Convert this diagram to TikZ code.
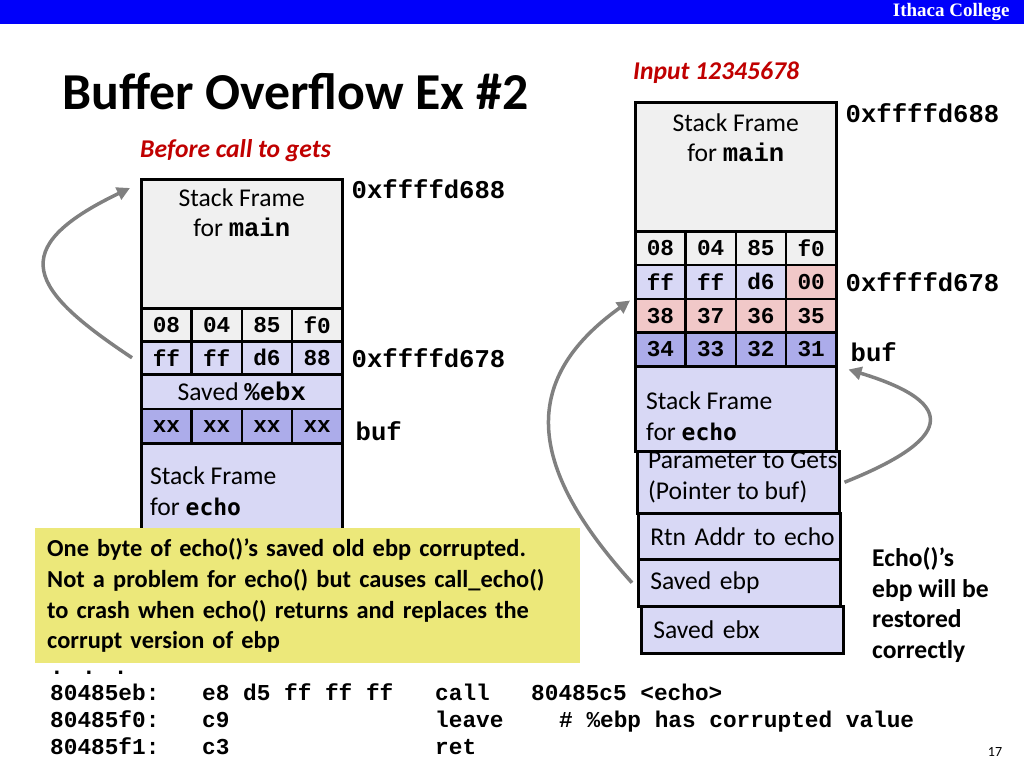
\documentclass[tikz,border=0pt]{standalone}
\usepackage{fontspec}
\usepackage{xcolor}
\setmainfont{Carlito}
\newfontfamily\codefont{Liberation Mono}
\newfontfamily\headfont{Liberation Serif}
\newfontfamily\echofont{DejaVu Sans Mono}
\usetikzlibrary{arrows.meta}
\definecolor{slideblue}{RGB}{0,0,250}
\definecolor{framegray}{RGB}{240,240,240}
\definecolor{lavender}{RGB}{216,216,245}
\definecolor{bufblue}{RGB}{172,172,234}
\definecolor{corruptpink}{RGB}{241,200,200}
\definecolor{notecolor}{RGB}{236,232,122}
\definecolor{inputred}{RGB}{192,0,0}
\definecolor{arrowgray}{RGB}{128,128,128}
\newcommand\txtsize{\fontsize{25.6}{30.6}\selectfont}
\newcommand\cellsize{\codefont\bfseries\fontsize{22.7}{24}\selectfont}
\newcommand\addrsize{\codefont\bfseries\fontsize{25.6}{28}\selectfont}
\newcommand\codesize{\codefont\bfseries\fontsize{22.75}{27}\selectfont}
\newcommand\fn[1]{{\codefont\bfseries #1}}
\newcommand\fe[1]{{\echofont\bfseries\fontsize{23}{28}\selectfont #1}}

\begin{document}
\begin{tikzpicture}[x=1pt, y=-1pt, every node/.style={font=\txtsize},
  cell/.style={draw, line width=2.5pt, anchor=north west, minimum width=50.25pt, inner sep=0pt, font=\cellsize},
  frame/.style={draw, line width=2.5pt, anchor=north west, minimum width=201pt, inner sep=0pt},
  slot/.style={draw, line width=2.5pt, anchor=north west, fill=lavender, text width=178pt, inner xsep=12pt, inner ysep=0pt, align=left},
  addr/.style={anchor=west, inner xsep=0pt, font=\addrsize},
  code/.style={anchor=base west, inner xsep=0pt, font=\codesize},
  arrow/.style={-{Triangle[length=13pt,width=13pt]}, line width=3.5pt, arrowgray},
  redlabel/.style={anchor=base west, inner xsep=0pt, text=inputred, font=\fontsize{25.6}{30}\selectfont\bfseries\itshape}]
  \useasboundingbox (0,0) rectangle (1024,768);
  \fill[slideblue] (0,0) rectangle (1024,24);
  \node[anchor=east, text=white, font=\headfont\bfseries\fontsize{19}{22}\selectfont] (college) at (1013,12) {Ithaca College};
  \node[anchor=base west, inner xsep=0pt, font=\bfseries\fontsize{51.8}{60}\selectfont] (title) at (62,109) {Buffer Overflow Ex \#2};
  \node[redlabel] (before) at (140,157) {Before call to gets};
  \node[redlabel] (input) at (633,79) {Input 12345678};

  \node[frame, fill=framegray, minimum height=129pt] (lmain) at (140,178) {};
  \node[anchor=north, align=center] (lmaintxt) at ([yshift=-7pt]lmain.north) {Stack Frame\\for \fn{main}};
  \foreach \v [count=\i from 0] in {08,04,85,f0}
    \node[cell, fill=framegray, minimum height=33pt] (la\i) at ({140+\i*50.25},307) {\v};
  \foreach \v [count=\i from 0] in {ff,ff,d6,88}
    \node[cell, fill=lavender, minimum height=33pt] (lb\i) at ({140+\i*50.25},340) {\v};
  \node[frame, fill=lavender, minimum height=34.5pt] (lebx) at (140,373) {Saved \fn{\%ebx}};
  \foreach \v [count=\i from 0] in {xx,xx,xx,xx}
    \node[cell, fill=bufblue, minimum height=34.5pt] (lc\i) at ({140+\i*50.25},407.5) {\v};
  \node[frame, fill=lavender, minimum height=90pt] (lecho) at (140,442) {};
  \node[anchor=base west, align=left, inner xsep=0pt] (lechotxt) at (150,515) {Stack Frame\\for \fe{echo}};
  \node[addr] (ltop) at ([xshift=8pt,yshift=-11pt]lmain.north east) {0xffffd688};
  \node[addr] (lebp) at ([xshift=8pt]lb3.east) {0xffffd678};
  \node[addr] (lbuf) at ([xshift=12pt,yshift=-5pt]lc3.east) {buf};

  \node[anchor=north west, fill=notecolor, minimum width=545pt, minimum height=135pt, text width=521pt, inner xsep=12pt, align=left, font=\fontsize{24.4}{30.7}\selectfont\bfseries] (note) at (35,528)
    {One byte of echo()’s saved old ebp corrupted.\\Not a problem for echo() but causes call\_echo()\\to crash when echo() returns and replaces the\\corrupt version of ebp};

  \node[frame, fill=framegray, minimum height=129pt] (rmain) at (634,101) {};
  \node[anchor=north, align=center] (rmaintxt) at ([yshift=-9pt]rmain.north) {Stack Frame\\for \fn{main}};
  \foreach \v [count=\i from 0] in {08,04,85,f0}
    \node[cell, fill=framegray, minimum height=33.75pt] (ra\i) at ({634+\i*50.25},230) {\v};
  \foreach \v/\c [count=\i from 0] in {ff/lavender,ff/lavender,d6/lavender,00/corruptpink}
    \node[cell, fill=\c, minimum height=33.75pt] (rb\i) at ({634+\i*50.25},263.75) {\v};
  \foreach \v [count=\i from 0] in {38,37,36,35}
    \node[cell, fill=corruptpink, minimum height=33.75pt] (rc\i) at ({634+\i*50.25},297.5) {\v};
  \foreach \v [count=\i from 0] in {34,33,32,31}
    \node[cell, fill=bufblue, minimum height=33.75pt] (rd\i) at ({634+\i*50.25},331.25) {\v};
  \node[frame, fill=lavender, minimum height=85pt] (recho) at (634,365) {};
  \node[anchor=base west, align=left, inner xsep=0pt] (rechotxt) at (646,440) {Stack Frame\\for \fe{echo}};
  \node[slot, minimum height=62pt] (rparam) at (636,450) {};
  \node[anchor=base west, align=left, inner xsep=0pt] (rparamtxt) at (648,499) {Parameter to Gets\\(Pointer to buf)};
  \node[slot, minimum height=46pt] (rrtn) at (637,512) {\mbox{Rtn Addr to echo}};
  \node[slot, minimum height=47pt] (rsebp) at (637,558) {\raisebox{-3pt}{Saved ebp}};
  \node[slot, minimum height=47pt] (rsebx) at (640,605) {\raisebox{-3pt}{Saved ebx}};
  \node[addr] (rtop) at ([xshift=8pt,yshift=-12pt]rmain.north east) {0xffffd688};
  \node[addr] (rebp) at ([xshift=8pt]rb3.east) {0xffffd678};
  \node[addr] (rbuf) at ([xshift=13pt,yshift=-3pt]rd3.east) {buf};
  \node[anchor=west, align=left, inner xsep=0pt, font=\txtsize\bfseries] (restored) at (872,605) {Echo()’s\\ebp will be\\restored\\correctly};

  \draw[arrow] ([xshift=-8pt]lb0.west) .. controls (30,290) and (3,249) .. ([xshift=-10pt,yshift=-10pt]lmain.north west);
  \draw[arrow] ([xshift=-5pt]rsebp.west) .. controls (530,470) and (516,382) .. ([xshift=-4pt,yshift=-3pt]rc0.north west);
  \draw[arrow] ([xshift=4pt]rparam.east) .. controls (950,440) and (962,404) .. ([xshift=11pt,yshift=-2pt]rd3.south east);

  \node[code, text height=4pt] (dots) at (50,674) {. . .};
  \node[code] (l1addr) at (50,700) {80485eb:};
  \node[code] (l1hex) at (202,700) {e8 d5 ff ff ff};
  \node[code] (l1op) at (435,700) {call};
  \node[code] (l1arg) at (531,700) {80485c5 <echo>};
  \node[code] (l2addr) at (50,727) {80485f0:};
  \node[code] (l2hex) at (202,727) {c9};
  \node[code] (l2op) at (435,727) {leave};
  \node[code] (l2arg) at (559,727) {\# \%ebp has corrupted value};
  \node[code] (l3addr) at (50,754) {80485f1:};
  \node[code] (l3hex) at (202,754) {c3};
  \node[code] (l3op) at (435,754) {ret};
  \node[font=\fontsize{14}{16}\selectfont] (pagenum) at (995,752) {17};
\end{tikzpicture}
\end{document}
